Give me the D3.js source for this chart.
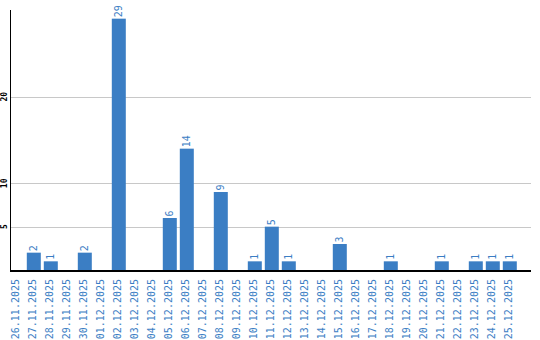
<!DOCTYPE html>
<html>
<head>
<meta charset="utf-8">
<script src="https://cdn.jsdelivr.net/npm/d3@7"></script>
<style>
	body { margin: 0; background: #fff; }
	svg { display: block; }
</style>
</head>
<body>
<script>
const dates = ["26.11.2025", "27.11.2025", "28.11.2025", "29.11.2025", "30.11.2025",
	"01.12.2025", "02.12.2025", "03.12.2025", "04.12.2025", "05.12.2025",
	"06.12.2025", "07.12.2025", "08.12.2025", "09.12.2025", "10.12.2025",
	"11.12.2025", "12.12.2025", "13.12.2025", "14.12.2025", "15.12.2025",
	"16.12.2025", "17.12.2025", "18.12.2025", "19.12.2025", "20.12.2025",
	"21.12.2025", "22.12.2025", "23.12.2025", "24.12.2025", "25.12.2025"]
const counts = [0, 2, 1, 0, 2, 0, 29, 0, 0, 6, 14, 0, 9, 0, 1, 5, 1, 0, 0, 3, 0, 0, 1, 0, 0, 1, 0, 1, 1, 1]
const yTicks = [5, 10, 20]

const width = 540, height = 340
const plotLeft = 10, plotRight = 531, plotTop = 10, base = 270
const blue = "#3b7ec4"
const font = "DejaVu Sans Mono"

const svg = d3.select("body").append("svg")
	.attr("width", width)
	.attr("height", height)

const x = d3.scaleBand().domain(dates).range([8.3, 518.3]).paddingInner(3 / 17).paddingOuter(3 / 34)
const y = d3.scaleLinear().domain([0, 30]).range([base, plotTop])

// grid
svg.append("g").selectAll("line")
	.data(yTicks)
	.join("line")
	.attr("x1", plotLeft).attr("x2", plotRight)
	.attr("y1", d => Math.round(y(d)) + 0.5).attr("y2", d => Math.round(y(d)) + 0.5)
	.attr("stroke", "#c8c8c8")

// y tick labels
svg.append("g").selectAll("text")
	.data(yTicks)
	.join("text")
	.attr("transform", d => `translate(7, ${y(d)}) rotate(-90)`)
	.attr("text-anchor", "middle")
	.attr("font-family", font)
	.attr("font-size", 8)
	.attr("font-weight", "bold")
	.text(d => d)

// bars
const data = dates.map((d, i) => ({ date: d, value: counts[i] }))
svg.append("g").selectAll("rect")
	.data(data.filter(d => d.value > 0))
	.join("rect")
	.attr("x", d => x(d.date))
	.attr("width", x.bandwidth())
	.attr("y", d => y(d.value))
	.attr("height", d => base - y(d.value))
	.attr("fill", blue)

// value labels
svg.append("g").selectAll("text")
	.data(data.filter(d => d.value > 0))
	.join("text")
	.attr("transform", d => `translate(${x(d.date) + x.bandwidth() / 2}, ${y(d.value) - 1.5}) rotate(-90)`)
	.attr("dominant-baseline", "middle")
	.attr("font-family", font)
	.attr("font-size", 10)
	.attr("fill", blue)
	.text(d => d.value)

// axes lines
svg.append("line")
	.attr("x1", plotLeft + 0.5).attr("x2", plotLeft + 0.5)
	.attr("y1", plotTop).attr("y2", base)
	.attr("stroke", "#000")
svg.append("line")
	.attr("x1", plotLeft).attr("x2", plotRight)
	.attr("y1", base + 1).attr("y2", base + 1)
	.attr("stroke", "#000")
	.attr("stroke-width", 2)

// x labels
svg.append("g").selectAll("text")
	.data(dates)
	.join("text")
	.attr("transform", d => `translate(${x(d) + x.bandwidth() / 2 - 0.5}, 279) rotate(-90)`)
	.attr("text-anchor", "end")
	.attr("dominant-baseline", "middle")
	.attr("font-family", font)
	.attr("font-size", 10)
	.attr("fill", blue)
	.text(d => d)
</script>
</body>
</html>
